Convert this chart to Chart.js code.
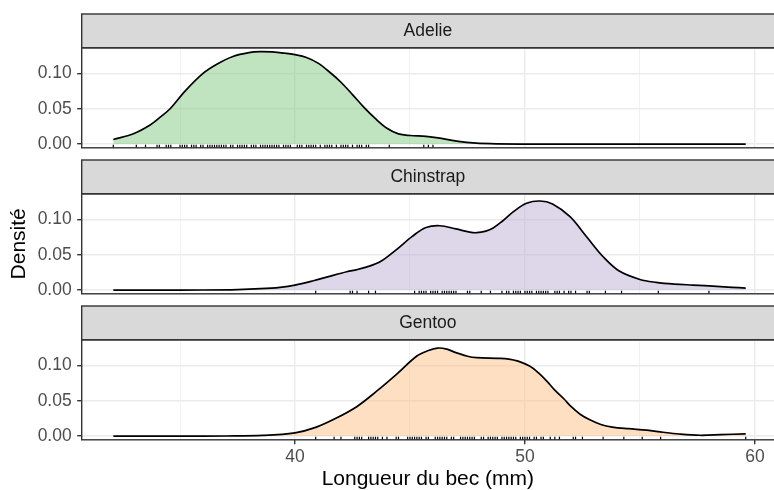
<!DOCTYPE html>
<html>
<head>
<meta charset="utf-8">
<script src="https://cdn.jsdelivr.net/npm/chart.js@4.4.1/dist/chart.umd.min.js"></script>
<style>
  html, body { margin: 0; padding: 0; background: #ffffff; overflow: hidden; }
  #wrap { position: relative; width: 774px; height: 490px; }
  #wrap canvas { position: absolute; left: 0; top: 0; }
</style>
</head>
<body>
<div id="wrap">
  <canvas id="p0" width="774" height="490"></canvas>
  <canvas id="p1" width="774" height="490"></canvas>
  <canvas id="p2" width="774" height="490"></canvas>
</div>
<script>
// Facet labels
const species = ['Adelie', 'Chinstrap', 'Gentoo'];

// Estimated density curves (bill length in mm, density)
const adelieLength = [32.1, 33.0, 33.7, 34.1, 34.57, 35.22, 36.0, 36.6, 37.3, 38.0, 38.5, 39.0, 39.5, 40.0, 40.5, 41.0, 41.5, 42.0, 42.5, 43.0, 43.5, 44.0, 44.5, 45.0, 45.7, 46.3, 46.9, 47.6, 48.5, 50.0, 52.0, 56.0, 59.6];
const adelieDensity = [0.0065, 0.015, 0.027, 0.037, 0.050, 0.075, 0.100, 0.113, 0.124, 0.1295, 0.1307, 0.1303, 0.1288, 0.1265, 0.1225, 0.1145, 0.102, 0.0875, 0.070, 0.052, 0.036, 0.0225, 0.0145, 0.0122, 0.011, 0.0085, 0.005, 0.0022, 0.0007, 0.0001, 0, 0, 0];

const chinstrapLength = [32.1, 34.0, 36.0, 37.5, 38.5, 39.35, 40.0, 40.8, 41.5, 42.25, 42.7, 43.1, 43.7, 44.4, 45.1, 45.7, 46.3, 47.0, 47.6, 47.9, 48.3, 48.6, 49.0, 49.5, 50.07, 50.65, 51.2, 51.96, 52.68, 53.4, 54.1, 55.0, 55.7, 56.5, 57.3, 58.0, 59.0, 59.6];
const chinstrapDensity = [0, 0, 0.0002, 0.0008, 0.002, 0.004, 0.007, 0.0132, 0.0195, 0.026, 0.029, 0.0325, 0.040, 0.057, 0.076, 0.0885, 0.091, 0.0865, 0.082, 0.0812, 0.0835, 0.0875, 0.097, 0.111, 0.1228, 0.126, 0.1218, 0.1038, 0.0755, 0.0472, 0.027, 0.0151, 0.011, 0.0085, 0.0072, 0.0061, 0.004, 0.0028];

const gentooLength = [32.1, 35.0, 37.0, 38.6, 40.0, 40.9, 41.8, 42.7, 43.55, 44.4, 45.3, 45.8, 46.2, 46.6, 47.0, 47.5, 47.9, 48.8, 49.3, 49.7, 50.2, 50.6, 50.95, 51.3, 51.7, 52.0, 52.4, 52.8, 53.3, 53.8, 54.5, 55.3, 56.0, 56.7, 57.6, 58.5, 59.6];
const gentooDensity = [0, 0, 0.0002, 0.001, 0.0047, 0.0124, 0.0256, 0.042, 0.0635, 0.087, 0.1133, 0.121, 0.1245, 0.123, 0.118, 0.113, 0.111, 0.110, 0.109, 0.106, 0.099, 0.089, 0.0778, 0.065, 0.0525, 0.042, 0.031, 0.0235, 0.0165, 0.0128, 0.0105, 0.0085, 0.0055, 0.003, 0.0012, 0.002, 0.0033];

// Individual measurements shown as rug marks
const adelieBills = [32.1, 33.1, 33.5, 34.0, 34.1, 34.4, 34.5, 34.6, 35.0, 35.1, 35.2, 35.3, 35.5, 35.6, 35.7, 35.9, 36.0, 36.2, 36.3, 36.4, 36.5, 36.6, 36.7, 36.8, 36.9, 37.0, 37.2, 37.3, 37.5, 37.6, 37.7, 37.8, 37.9, 38.1, 38.2, 38.3, 38.5, 38.6, 38.7, 38.8, 38.9, 39.0, 39.1, 39.2, 39.3, 39.5, 39.6, 39.7, 39.8, 40.1, 40.2, 40.3, 40.5, 40.6, 40.7, 40.8, 40.9, 41.1, 41.3, 41.4, 41.5, 41.6, 41.8, 42.0, 42.1, 42.2, 42.3, 42.5, 42.7, 42.8, 42.9, 43.1, 43.2, 44.1, 45.6, 45.8, 46.0];
const chinstrapBills = [40.9, 42.4, 42.5, 42.7, 43.2, 43.5, 45.2, 45.4, 45.5, 45.6, 45.7, 45.9, 46.0, 46.1, 46.2, 46.4, 46.5, 46.6, 46.7, 46.8, 46.9, 47.0, 47.5, 47.6, 48.1, 48.5, 49.0, 49.2, 49.3, 49.5, 49.6, 49.7, 49.8, 50.0, 50.1, 50.2, 50.3, 50.5, 50.6, 50.7, 50.8, 50.9, 51.0, 51.3, 51.4, 51.5, 51.7, 51.9, 52.0, 52.2, 52.7, 52.8, 53.5, 54.2, 55.8, 58.0];
const gentooBills = [40.9, 41.7, 42.0, 42.6, 42.7, 42.8, 42.9, 43.2, 43.3, 43.4, 43.5, 43.6, 43.8, 44.0, 44.4, 44.5, 44.9, 45.0, 45.1, 45.2, 45.3, 45.4, 45.5, 45.7, 45.8, 46.1, 46.2, 46.3, 46.4, 46.5, 46.6, 46.8, 46.9, 47.2, 47.3, 47.4, 47.5, 47.6, 47.7, 47.8, 48.1, 48.2, 48.4, 48.5, 48.6, 48.7, 48.8, 49.0, 49.1, 49.2, 49.3, 49.4, 49.5, 49.6, 49.8, 49.9, 50.0, 50.1, 50.2, 50.4, 50.5, 50.7, 50.8, 51.1, 51.3, 51.5, 52.1, 52.2, 52.5, 53.4, 54.3, 55.1, 55.9, 59.6];

// Axis ticks: every break gets a grid line, only some get labels
const xBreaks = [35, 40, 45, 50, 55, 60];
const xLabels = [40, 50, 60];
const yBreaks = [0, 0.025, 0.05, 0.075, 0.1, 0.125];
const yLabels = [0, 0.05, 0.1];

const fills = ['rgba(127,201,127,0.5)', 'rgba(190,174,212,0.5)', 'rgba(253,192,134,0.5)'];

const lengths = [adelieLength, chinstrapLength, gentooLength];
const densities = [adelieDensity, chinstrapDensity, gentooDensity];
const bills = [adelieBills, chinstrapBills, gentooBills];

// Layout of the facet panels
const X_MIN = 30.725, X_MAX = 60.83;
const Y_MIN = -0.0052, Y_MAX = 0.1362;
const AXIS_W = 81.7;
const PANEL_TOPS = [47.8, 193.8, 339.8];
const PANEL_H = 100;
const STRIP_H = 33.8;
const BOTTOM_AXIS_H = 490 - (PANEL_TOPS[2] + PANEL_H);
const RUG_Y = Y_MIN + 0.015 * (Y_MAX - Y_MIN);

const FONT = "'Liberation Sans', Arial, Helvetica, sans-serif";
const GRID = '#EBEBEB';
const DARK = '#333333';

const panelFrame = {
  id: 'panelFrame',
  afterDraw(chart, args, opts) {
    const { ctx, chartArea: a } = chart;
    ctx.save();
    // strip
    const sTop = a.top - STRIP_H;
    ctx.fillStyle = '#D9D9D9';
    ctx.fillRect(a.left, sTop, a.right - a.left + 2, STRIP_H);
    ctx.strokeStyle = DARK;
    ctx.lineWidth = 1.4;
    ctx.strokeRect(a.left, sTop, a.right - a.left + 4, STRIP_H);
    // panel border
    ctx.strokeRect(a.left, a.top, a.right - a.left + 4, a.bottom - a.top);
    // strip label
    ctx.fillStyle = '#1A1A1A';
    ctx.font = '17.5px ' + FONT;
    ctx.textAlign = 'center';
    ctx.textBaseline = 'middle';
    ctx.fillText(opts.label, (a.left + a.right) / 2, sTop + STRIP_H / 2);
    ctx.restore();
  }
};

function makePanel(i) {
  const isBottom = i === 2;
  const curve = lengths[i].map((x, k) => ({ x: x, y: densities[i][k] }));
  const rug = bills[i].map(x => ({ x: x, y: RUG_Y }));
  const top = PANEL_TOPS[i];
  return new Chart(document.getElementById('p' + i), {
    type: 'line',
    data: {
      datasets: [
        {
          data: curve,
          borderColor: '#000000',
          borderWidth: 1.7,
          backgroundColor: fills[i],
          fill: 'origin',
          pointRadius: 0,
          tension: 0.35,
          order: 2
        },
        {
          type: 'scatter',
          data: rug,
          pointStyle: 'line',
          rotation: 90,
          pointRadius: 1.6,
          borderColor: '#000000',
          borderWidth: 1.2,
          clip: false,
          order: 1
        }
      ]
    },
    options: {
      responsive: false,
      animation: false,
      events: [],
      layout: {
        autoPadding: false,
        padding: { left: 0, right: 0, top: top, bottom: isBottom ? 0 : 490 - (top + PANEL_H) }
      },
      plugins: {
        legend: { display: false },
        tooltip: { enabled: false },
        panelFrame: { label: species[i] }
      },
      scales: {
        x: {
          type: 'linear',
          min: X_MIN,
          max: X_MAX,
          border: { display: false },
          afterBuildTicks: s => { s.ticks = xBreaks.map(v => ({ value: v })); },
          afterFit: s => { s.height = isBottom ? BOTTOM_AXIS_H : 0; },
          grid: {
            color: GRID,
            lineWidth: c => xLabels.includes(c.tick.value) ? 1.4 : 0.7,
            drawTicks: isBottom,
            tickLength: 4.5,
            tickWidth: 1.4,
            tickColor: c => xLabels.includes(c.tick.value) ? DARK : 'rgba(0,0,0,0)'
          },
          ticks: {
            display: isBottom,
            autoSkip: false,
            maxRotation: 0,
            padding: 2,
            color: '#4D4D4D',
            font: { family: FONT, size: 17.5 },
            callback: v => xLabels.includes(v) ? String(v) : ''
          },
          title: {
            display: isBottom,
            text: 'Longueur du bec (mm)',
            color: '#000000',
            padding: 0,
            font: { family: FONT, size: 21, lineHeight: 1 }
          }
        },
        y: {
          type: 'linear',
          min: Y_MIN,
          max: Y_MAX,
          border: { display: false },
          afterBuildTicks: s => { s.ticks = yBreaks.map(v => ({ value: v })); },
          afterFit: s => { s.width = AXIS_W; },
          grid: {
            color: GRID,
            lineWidth: c => yLabels.includes(c.tick.value) ? 1.4 : 0.7,
            tickLength: 4.5,
            tickWidth: 1.4,
            tickColor: c => yLabels.includes(c.tick.value) ? DARK : 'rgba(0,0,0,0)'
          },
          ticks: {
            padding: 5.5,
            color: '#4D4D4D',
            font: { family: FONT, size: 17.5 },
            callback: v => yLabels.includes(v) ? v.toFixed(2) : ''
          },
          title: {
            display: i === 1,
            text: 'Densité',
            color: '#000000',
            padding: { top: 9, bottom: 0 },
            font: { family: FONT, size: 21, lineHeight: 1 }
          }
        }
      }
    },
    plugins: [panelFrame]
  });
}

[0, 1, 2].forEach(makePanel);
</script>
</body>
</html>
